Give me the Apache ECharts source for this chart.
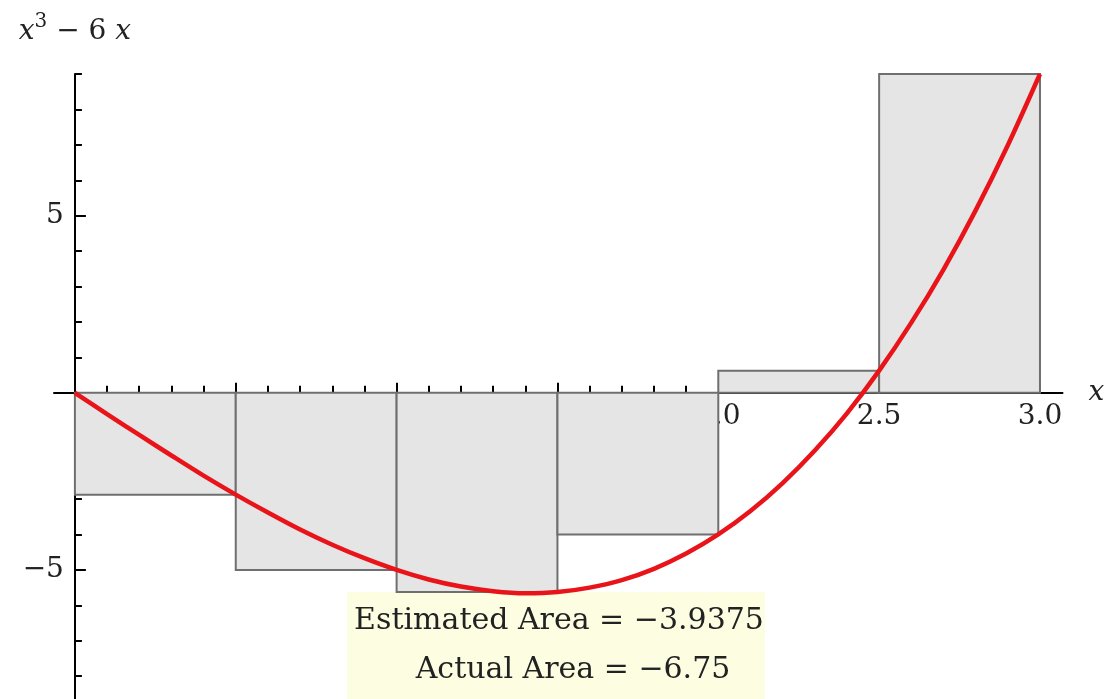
<!DOCTYPE html>
<html>
<head>
<meta charset="utf-8">
<script src="https://cdn.jsdelivr.net/npm/echarts@6/dist/echarts.min.js"></script>
<style>
html,body{margin:0;padding:0;background:#fff;}
#c{width:1104px;height:699px;}
</style>
</head>
<body>
<div id="c"></div>
<script>
// Riemann sum rectangles (right endpoints, width 0.5)
const rectLeft = [0, 0.5, 1.0, 1.5, 2.0, 2.5];
const rectRight = [0.5, 1.0, 1.5, 2.0, 2.5, 3.0];
const rectHeight = [-2.875, -5, -5.625, -4, 0.625, 9];

// Curve x^3 - 6x, values read at 0.1 steps
const curveX = [0,0.1,0.2,0.3,0.4,0.5,0.6,0.7,0.8,0.9,1.0,1.1,1.2,1.3,1.4,1.5,1.6,1.7,1.8,1.9,2.0,2.1,2.2,2.3,2.4,2.5,2.6,2.7,2.8,2.9,3.0];
const curveY = [0,-0.6,-1.19,-1.77,-2.34,-2.875,-3.38,-3.86,-4.29,-4.67,-5,-5.27,-5.47,-5.6,-5.66,-5.625,-5.5,-5.29,-4.97,-4.54,-4,-3.34,-2.55,-1.63,-0.58,0.625,1.98,3.48,5.15,6.99,9];

// Axis ticks / labels
const xMajorTicks = [0.5, 1.0, 1.5, 2.0, 2.5, 3.0];
const xMinorTicks = [0.1,0.2,0.3,0.4,0.6,0.7,0.8,0.9,1.1,1.2,1.3,1.4,1.6,1.7,1.8,1.9,2.1,2.2,2.3,2.4,2.6,2.7,2.8,2.9];
const xLabels = [0.5, 1.0, 1.5, 2.0, 2.5, 3.0];
const yMajorTicks = [-5, 5];
const yMinorTicks = [-9,-8,-7,-6,-4,-3,-2,-1,1,2,3,4,6,7,8,9];
const yLabels = [-5, 5];

const estimatedText = 'Estimated Area = \u22123.9375';
const actualText = 'Actual Area = \u22126.75';

const serif = '"DejaVu Serif", "Liberation Serif", serif';
const xRange = [-0.065, 3.07];
const yRange = [-10, 9];

function fmtNum(v){
  const s = Math.abs(v) < 1e-9 ? '0' : (Number.isInteger(v) && Math.abs(v) >= 5 ? String(Math.abs(v)) : Math.abs(v).toFixed(1));
  return v < 0 ? '\u2212' + s : s;
}

const W = 1104, H = 699;
const G = {left: 54, right: 41.5, top: 74, bottom: -48};
// pixel offsets so that the axes cross at the data origin (layout only)
const gw = W - G.left - G.right, gh = H - G.top - G.bottom;
const xAxisOffset = -(gh * (0 - yRange[0]) / (yRange[1] - yRange[0]));
const yAxisOffset = -(gw * (0 - xRange[0]) / (xRange[1] - xRange[0]));

const chart = echarts.init(document.getElementById('c'), null, {renderer:'canvas'});

const rectData = rectLeft.map((l, i) => [l, rectRight[i], rectHeight[i]]);

const axisLineStyle = {color:'#000', width:2};

const option = {
  animation: false,
  backgroundColor: '#fff',
  grid: {left: G.left, right: G.right, top: G.top, bottom: G.bottom, containLabel: false, outerBoundsMode: 'none'},
  xAxis: [
    {
      type: 'value', min: xRange[0], max: xRange[1], position: 'bottom', offset: xAxisOffset,
      axisLine: {show: true, onZero: false, lineStyle: axisLineStyle},
      axisTick: {show: true, inside: true, length: 10, customValues: xMajorTicks, lineStyle: {color:'#000', width:2}},
      axisLabel: {show: true, customValues: xLabels, formatter: v => fmtNum(v), fontFamily: serif, fontSize: 28, color:'#222', margin: 10, hideOverlap: false},
      splitLine: {show: false},
      name: 'x', nameLocation: 'end', nameGap: 26,
      nameTextStyle: {fontFamily: serif, fontStyle:'italic', fontSize: 28, color:'#222'}
    },
    {
      type: 'value', min: xRange[0], max: xRange[1], position: 'bottom', offset: xAxisOffset,
      axisLine: {show: false, onZero: false},
      axisTick: {show: true, inside: true, length: 7, customValues: xMinorTicks, lineStyle: {color:'#000', width:2}},
      axisLabel: {show: false},
      splitLine: {show: false}
    }
  ],
  yAxis: [
    {
      type: 'value', min: yRange[0], max: yRange[1], position: 'left', offset: yAxisOffset,
      axisLine: {show: true, onZero: false, lineStyle: axisLineStyle},
      axisTick: {show: true, inside: true, length: 11, customValues: yMajorTicks, lineStyle: {color:'#000', width:2}},
      axisLabel: {show: true, customValues: yLabels, formatter: v => fmtNum(v), fontFamily: serif, fontSize: 28, color:'#222', margin: 11, hideOverlap: false},
      splitLine: {show: false},
      name: '{i|x}{s|3}{n| \u2212 6 }{i|x}', nameLocation: 'end', nameGap: 28,
      nameTextStyle: {
        align: 'center',
        rich: {
          i: {fontFamily: serif, fontStyle:'italic', fontSize: 28, color:'#222', verticalAlign:'bottom'},
          s: {fontFamily: serif, fontSize: 20, color:'#222', verticalAlign:'top', padding:[0,0,14,0]},
          n: {fontFamily: serif, fontSize: 28, color:'#222', verticalAlign:'bottom'}
        }
      }
    },
    {
      type: 'value', min: yRange[0], max: yRange[1], position: 'left', offset: yAxisOffset,
      axisLine: {show: false, onZero: false},
      axisTick: {show: true, inside: true, length: 7, customValues: yMinorTicks, lineStyle: {color:'#000', width:2}},
      axisLabel: {show: false},
      splitLine: {show: false}
    }
  ],
  series: [
    {
      type: 'custom',
      xAxisIndex: 0, yAxisIndex: 0,
      z: 3,
      data: rectData,
      renderItem: function(params, api){
        const p0 = api.coord([api.value(0), 0]);
        const p1 = api.coord([api.value(1), api.value(2)]);
        const x = Math.min(p0[0], p1[0]), y = Math.min(p0[1], p1[1]);
        return {
          type: 'rect',
          shape: {x: x, y: y, width: Math.abs(p1[0]-p0[0]), height: Math.abs(p1[1]-p0[1])},
          style: {fill: '#e5e5e5', stroke: '#6f6f6f', lineWidth: 2}
        };
      }
    },
    {
      type: 'line',
      xAxisIndex: 0, yAxisIndex: 0,
      z: 5,
      data: curveX.map((x, i) => [x, curveY[i]]),
      showSymbol: false,
      smooth: 0.3,
      lineStyle: {color: '#e8141a', width: 4.5}
    }
  ],
  graphic: [
    {
      type: 'group', z: 10,
      children: [
        {type:'rect', shape:{x:347, y:592, width:418, height:120}, style:{fill:'#fdfde2'}},
        {type:'text', x:559, y:621, style:{text: estimatedText, fontFamily: serif, fontSize: 30, fill:'#222', align:'center', verticalAlign:'middle'}},
        {type:'text', x:573, y:670, style:{text: actualText, fontFamily: serif, fontSize: 30, fill:'#222', align:'center', verticalAlign:'middle'}}
      ]
    }
  ]
};
chart.setOption(option);
</script>
</body>
</html>
